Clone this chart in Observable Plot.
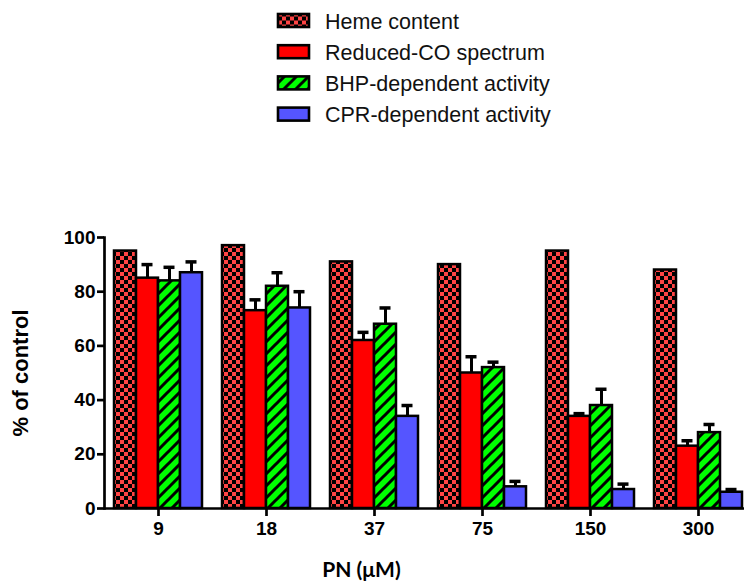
<!DOCTYPE html>
<html><head><meta charset="utf-8">
<script src="https://cdn.jsdelivr.net/npm/d3@7"></script>
<script src="https://cdn.jsdelivr.net/npm/@observablehq/plot@0.6"></script>
<style>
html,body{margin:0;padding:0;background:#fff;overflow:hidden;}
#wrap{position:relative;width:744px;height:581px;overflow:hidden;}
#wrap svg{display:block;}
</style></head><body><div id="wrap"></div>
<script>
const concentrations = ["9", "18", "37", "75", "150", "300"];
const seriesNames = ["Heme content", "Reduced-CO spectrum", "BHP-dependent activity", "CPR-dependent activity"];
const hemeContent = [95, 97, 91, 90, 95, 88];
const reducedCO = [85, 73, 62, 50, 34, 23];
const reducedCOErr = [5, 4, 3, 6, 1, 2];
const bhpActivity = [84, 82, 68, 52, 38, 28];
const bhpErr = [5, 5, 6, 2, 6, 3];
const cprActivity = [87, 74, 34, 8, 7, 6];
const cprErr = [4, 6, 4, 2, 2, 1];
const yTicks = [0, 20, 40, 60, 80, 100];
const seriesFills = ["url(#pat-checker)", "#ff0000", "url(#pat-hatch)", "#5555ff"];

const seriesValues = [hemeContent, reducedCO, bhpActivity, cprActivity];
const seriesErrors = [null, reducedCOErr, bhpErr, cprErr];
const rows = [];
concentrations.forEach((c, i) => seriesNames.forEach((s, j) => rows.push({
  conc: c, series: s, value: seriesValues[j][i], err: seriesErrors[j] ? seriesErrors[j][i] : 0
})));
const errRows = rows.filter(d => d.err > 0);

const wrap = d3.select("#wrap");

// pattern definitions
const defsSvg = wrap.append("svg").attr("width", 0).attr("height", 0)
  .style("position", "absolute").style("left", "0").style("top", "0");
const defs = defsSvg.append("defs");
const ck = defs.append("pattern").attr("id", "pat-checker").attr("patternUnits", "userSpaceOnUse")
  .attr("width", 8).attr("height", 8);
ck.append("rect").attr("width", 8).attr("height", 8).attr("fill", "#000");
ck.append("rect").attr("width", 4).attr("height", 4).attr("fill", "#ff4444");
ck.append("rect").attr("x", 4).attr("y", 4).attr("width", 4).attr("height", 4).attr("fill", "#ff4444");
const ht = defs.append("pattern").attr("id", "pat-hatch").attr("patternUnits", "userSpaceOnUse")
  .attr("width", 12).attr("height", 12);
ht.append("rect").attr("width", 12).attr("height", 12).attr("fill", "#00ff00");
ht.append("path").attr("d", "M-3,3L3,-3M0,12L12,0M9,15L15,9")
  .attr("stroke", "#000").attr("stroke-width", 3).attr("fill", "none");

// legend
const legend = wrap.append("svg").attr("width", 744).attr("height", 200)
  .attr("font-family", "'Liberation Sans', Arial, sans-serif");
const lg = legend.selectAll("g").data(seriesNames).join("g")
  .attr("transform", (d, i) => `translate(278,${20.5 + i * 31.2})`);
lg.append("rect").attr("x", 0).attr("y", -6.5).attr("width", 31).attr("height", 13)
  .attr("fill", (d, i) => seriesFills[i]).attr("stroke", "#000").attr("stroke-width", 2.6);
lg.append("text").attr("x", 47).attr("y", 1).attr("dominant-baseline", "central")
  .attr("font-size", 21.5).attr("fill", "#111").text(d => d);

const chart = Plot.plot({
  width: 752,
  height: 381,
  marginTop: 37,
  marginBottom: 73,
  marginLeft: 104,
  marginRight: 0,
  style: {fontFamily: "'Liberation Sans', Arial, sans-serif", color: "#000", background: "transparent"},
  fx: {domain: concentrations, padding: 0, label: "PN (μM)"},
  x: {domain: seriesNames, paddingInner: 0, paddingOuter: 0.4545, axis: null},
  y: {domain: [0, 100], label: "% of control"},
  color: {domain: seriesNames, range: seriesFills},
  marks: [
    Plot.barY(rows, {fx: "conc", x: "series", y: "value", fill: "series", stroke: "#000", strokeWidth: 2.5}),
    Plot.ruleX(errRows, {fx: "conc", x: "series", y1: "value", y2: d => d.value + d.err, stroke: "#000", strokeWidth: 3}),
    Plot.tickY(errRows, {fx: "conc", x: "series", y: d => d.value + d.err, stroke: "#000", strokeWidth: 3.5, insetLeft: 5.5, insetRight: 5.5}),
    Plot.ruleY([0], {stroke: "#000", strokeWidth: 2.7}),
    Plot.frame({anchor: "left", facetAnchor: "left", stroke: "#000", strokeWidth: 2.7}),
    Plot.axisY({ticks: yTicks, tickSize: 7, tickPadding: 2, fontSize: 19, fontWeight: "bold", strokeWidth: 2.7,
      label: "% of control", labelArrow: "none", labelAnchor: "center", labelOffset: 92}),
    Plot.axisFx({anchor: "bottom", tickSize: 8, tickPadding: 5, fontSize: 19, fontWeight: "bold", strokeWidth: 2.7,
      label: "PN (μM)", labelArrow: "none", labelAnchor: "center", labelOffset: 68})
  ]
});
chart.style.maxWidth = "none";
wrap.node().appendChild(chart);

const svg = d3.select(chart);
svg.selectAll('[aria-label="y-axis label"] text').attr("font-size", 22).attr("font-weight", "bold")
  .text(function() { return this.textContent.replace(/\s*[→↑↓←]\s*/g, ""); });
const fxl = svg.select('[aria-label="fx-axis label"]');
if (!fxl.empty()) {
  fxl.attr("transform", `translate(-67,0) ${fxl.attr("transform") || ""}`);
  fxl.selectAll("text").attr("font-size", 21).attr("font-weight", "bold").attr("font-family", "Lato, 'Open Sans', sans-serif")
    .text(function() { return this.textContent.replace(/\s*[→↑↓←]\s*/g, ""); });
}
</script></body></html>
